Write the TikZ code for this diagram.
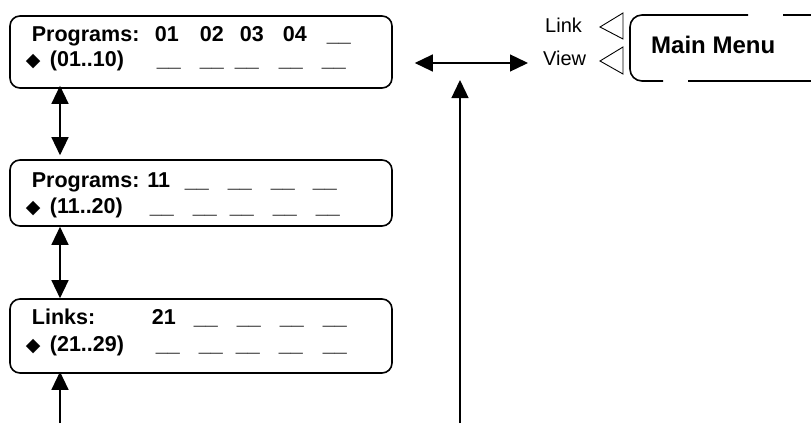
\documentclass[tikz,border=0pt]{standalone}
\usepackage{fontspec}
\setmainfont{Liberation Sans}
\newfontfamily\symfont{DejaVu Sans}
\usetikzlibrary{positioning,calc,arrows.meta}

% place a piece of text at a fixed offset in a line
\newcommand{\at}[2]{\makebox[0pt][l]{\hspace*{#1pt}#2}}
\newcommand{\blank}{\textunderscore\textunderscore}
\newcommand{\dia}{{\symfont\fontsize{19}{19}\selectfont ◆}}

\begin{document}
\begin{tikzpicture}[x=1pt,y=-1pt,
    lcd/.style={draw,line width=1.6pt,rounded corners=10pt,minimum width=382pt,inner sep=0pt},
    row/.style={anchor=base west,inner sep=0pt,font=\fontsize{21.5}{26}\selectfont\bfseries},
    lbl/.style={anchor=base west,inner sep=0pt,font=\fontsize{20}{24}\selectfont},
    dbl/.style={{Triangle[length=18pt,width=17pt]}-{Triangle[length=18pt,width=17pt]},line width=1.3pt},
    up/.style={-{Triangle[length=18pt,width=17pt]},line width=1.3pt}]
    \useasboundingbox (0,0) rectangle (811,423);

    % the three screens
    \node[lcd,minimum height=72pt] (p1) at (201,52)  {};
    \node[lcd,minimum height=66pt] (p2) at (201,193) {};
    \node[lcd,minimum height=74pt] (p3) at (201,336) {};

    \node[row] (p1a) at ($(p1.north west)+(0,26)$)
        {\at{22}{Programs:}\at{145}{01}\at{190}{02}\at{230}{03}\at{273}{04}\at{317}{\blank}};
    \node[row] (p1b) at ($(p1.north west)+(0,51)$)
        {\at{16}{\dia}\at{40}{(01..10)}\at{147}{\blank}\at{190}{\blank}\at{225}{\blank}\at{269}{\blank}\at{312}{\blank}};

    \node[row] (p2a) at ($(p2.north west)+(0,28)$)
        {\at{22}{Programs: 11}\at{175}{\blank}\at{218}{\blank}\at{261}{\blank}\at{303}{\blank}};
    \node[row] (p2b) at ($(p2.north west)+(0,54)$)
        {\at{16}{\dia}\at{40}{(11..20)}\at{140}{\blank}\at{183}{\blank}\at{220}{\blank}\at{263}{\blank}\at{306}{\blank}};

    \node[row] (p3a) at ($(p3.north west)+(0,26)$)
        {\at{22}{Links:}\at{142}{21}\at{184}{\blank}\at{227}{\blank}\at{270}{\blank}\at{313}{\blank}};
    \node[row] (p3b) at ($(p3.north west)+(0,53)$)
        {\at{16}{\dia}\at{40}{(21..29)}\at{146}{\blank}\at{189}{\blank}\at{226}{\blank}\at{269}{\blank}\at{313}{\blank}};

    % menu side
    \node[lbl] (link) at (545,32) {Link};
    \node[lbl] (view) at (543,65) {View};
    \draw[line width=0.9pt,line join=miter] (623,13) -- (600,27) -- (623,39) -- cycle;
    \draw[line width=0.9pt,line join=miter] (623,47) -- (600,61) -- (623,74) -- cycle;
    \node[row,font=\fontsize{24}{28}\selectfont\bfseries] (menu) at (651,53) {Main Menu};
    \draw[line width=1.6pt,rounded corners=12pt] (748,15) -- (630,15) -- (630,81) -- (663,81);
    \draw[line width=1.6pt] (783,15) -- (811,15) (688,81) -- (811,81);

    % arrows
    \coordinate (col) at (60,0);
    \coordinate (b1) at (60,423);
    \coordinate (hr) at (528,63);
    \coordinate (b2) at (460,423);
    \draw[dbl,shorten <=-3pt,shorten >=4pt] (p1.south -| col) -- (p2.north -| col);
    \draw[dbl] (p2.south -| col) -- (p3.north -| col);
    \draw[up,shorten >=-2pt] (b1) -- (p3.south -| col);
    \draw[dbl,shorten <=22pt] (p1.east |- hr) -- (hr);
    \draw[up,shorten >=17pt] (b2) -- (b2 |- hr);
\end{tikzpicture}
\end{document}
